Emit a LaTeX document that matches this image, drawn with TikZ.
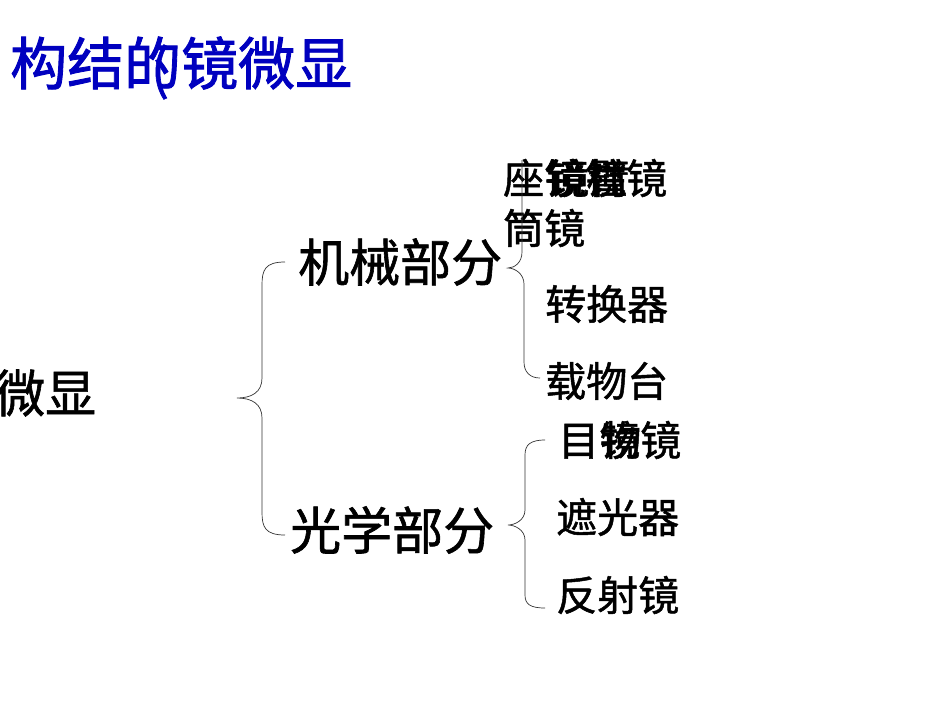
\documentclass[tikz,border=0pt]{standalone}
\usepackage{fontspec}
\newfontfamily\cjk{Noto Sans CJK SC}[FakeBold=1.2]
\newfontfamily\cjkt{Noto Sans CJK SC}[FakeBold=1.5]
\begin{document}
\begin{tikzpicture}[x=1pt,y=-1pt,
  big/.style={font=\cjk\fontsize{51}{51}\selectfont, inner sep=0, anchor=west},
  item/.style={font=\cjk\fontsize{41}{41}\selectfont, inner sep=0, anchor=west},
  br/.style={draw=black!80, line width=0.7pt}]
\useasboundingbox (0,0) rectangle (950,713);
\fill[white] (0,0) rectangle (950,713);
\node[font=\cjkt\fontsize{57}{57}\selectfont, text=blue!75!black, inner sep=0, anchor=west] (title) at (10,63) {构结的镜微显};
\node[font=\cjk\fontsize{54}{54}\selectfont, text=blue!75!black, inner sep=0] (paren) at (160,72) {(};
\node[big] (root) at (-6,393) {微显};
\node[big] (mech) at (298,262) {机械部分};
\node[big] (opt) at (290,530) {光学部分};
\node[item] (a1) at (503,178) {座镜镜镜};
\node[item] (a1b) at (545,178) {镜柱};
\node[item] (a1c) at (548,178) {镜臂};
\node[item] (a2) at (503,228) {筒镜};
\node[item] (a3) at (545,304) {转换器};
\node[item] (a4) at (545,381) {载物台};
\node[item] (b1) at (558,440) {目镜镜};
\node[item] (b1b) at (600,440) {物};
\node[item] (b2) at (556,517) {遮光器};
\node[item] (b3) at (556,595) {反射镜};
% big brace
\coordinate (m1) at (285,262); \coordinate (m2) at (285,535); \coordinate (mt) at (237,398);
\draw[br] (m1) .. controls (265,262) and (262,270) .. (262,285) -- (262,378) .. controls (262,392) and (252,398) .. (mt)
  .. controls (252,398) and (262,404) .. (262,418) -- (262,512) .. controls (262,527) and (265,535) .. (m2);
% top brace
\coordinate (t1) at (522,160); \coordinate (t2) at (540,378); \coordinate (tt) at (508,268);
\draw[br] (t1) -- (522,252) .. controls (522,262) and (515,268) .. (tt)
  .. controls (515,268) and (524,274) .. (524,284) -- (524,362) .. controls (524,372) and (530,378) .. (t2);
% bottom brace
\coordinate (u1) at (545,440); \coordinate (u2) at (545,608); \coordinate (ut) at (508,525);
\draw[br] (u1) .. controls (530,440) and (525,445) .. (525,455) -- (525,510) .. controls (525,520) and (515,525) .. (ut)
  .. controls (515,525) and (525,530) .. (525,540) -- (525,595) .. controls (525,604) and (530,608) .. (u2);
\end{tikzpicture}
\end{document}
